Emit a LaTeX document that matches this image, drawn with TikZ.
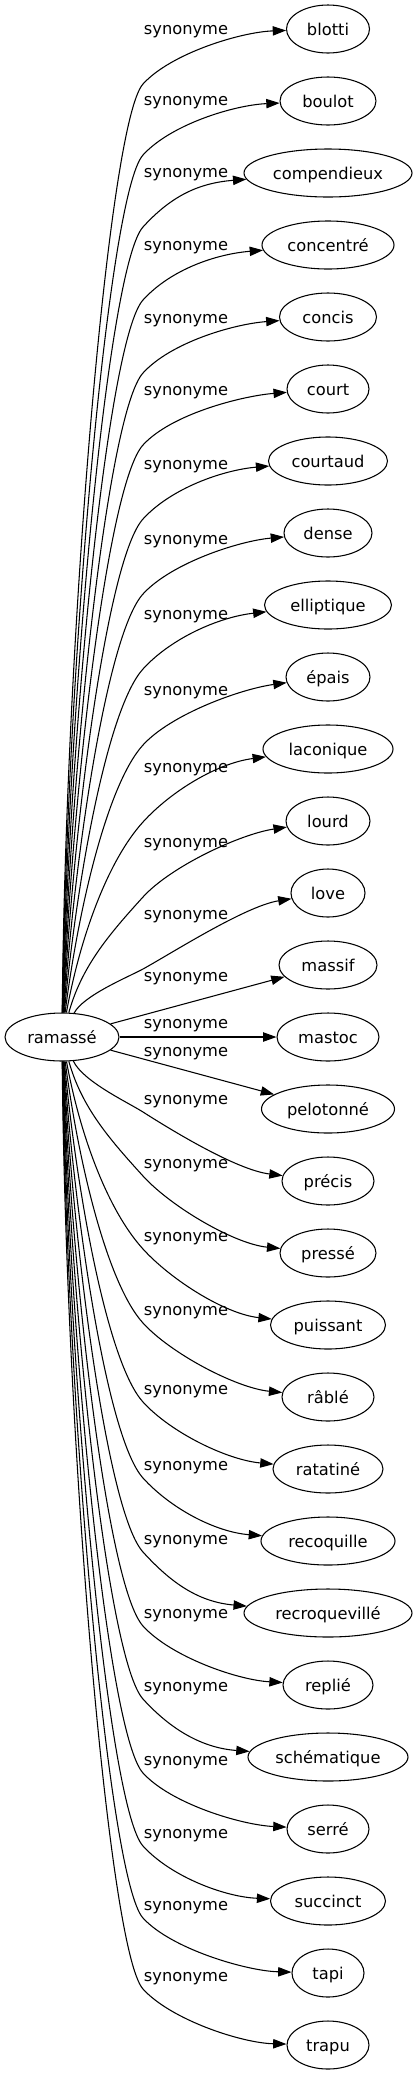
\documentclass[tikz,border=0pt]{standalone}
\usepackage{fontspec}
\setmainfont{DejaVu Sans}
\usetikzlibrary{shapes.geometric,arrows.meta,calc}
\tikzset{
  tnode/.style={ellipse, draw, line width=0.8pt, minimum height=36pt, inner sep=0pt,
    text height=9.3pt, text depth=0pt, font=\fontsize{12.2pt}{14pt}\selectfont},
  lab/.style={inner sep=0pt, font=\fontsize{12.2pt}{14pt}\selectfont},
  edge/.style={line width=0.8pt, -{Triangle[length=10pt,width=7pt]}},
}
\newcommand\upedge[3]{%
  \pgfmathsetmacro\myWy{#2+52}%
  \pgfmathsetmacro\myD{1013-\myWy}%
  \pgfmathsetmacro\myK{min(1.1,\myD/80)}%
  \pgfmathsetmacro\myAx{64+20*(1-\myD/1000)}%
  \pgfmathsetmacro\myAy{1013-0.4*\myD}%
  \pgfmathsetmacro\myM{min(35,0.3*\myD)}%
  \pgfmathsetmacro\myBx{143-\myM}%
  \pgfmathsetmacro\myBy{\myWy+\myK*\myM}%
  \pgfmathsetmacro\myCy{\myWy-28*\myK}%
  \coordinate (w#1) at (143,\myWy);
  \node[lab] (l#1) at (186,#2) {synonyme};
  \draw[edge] (ram) .. controls (\myAx,\myAy) and (\myBx,\myBy) .. (w#1)
     .. controls (171,\myCy) and ($(#1.west)+(-45,#3)$) .. (#1);
}
\newcommand\downedge[3]{%
  \pgfmathsetmacro\myWy{#2+10}%
  \pgfmathsetmacro\myD{\myWy-1061}%
  \pgfmathsetmacro\myK{min(1.1,\myD/80)}%
  \pgfmathsetmacro\myAx{64+20*(1-\myD/1000)}%
  \pgfmathsetmacro\myAy{1061+0.4*\myD}%
  \pgfmathsetmacro\myM{min(35,0.3*\myD)}%
  \pgfmathsetmacro\myBx{143-\myM}%
  \pgfmathsetmacro\myBy{\myWy-\myK*\myM}%
  \pgfmathsetmacro\myCy{\myWy+28*\myK}%
  \coordinate (w#1) at (143,\myWy);
  \node[lab] (l#1) at (186,#2) {synonyme};
  \draw[edge] (ram) .. controls (\myAx,\myAy) and (\myBx,\myBy) .. (w#1)
     .. controls (171,\myCy) and ($(#1.west)+(-45,-#3)$) .. (#1);
}
\begin{document}
\begin{tikzpicture}[x=0.75pt,y=-0.75pt]
\useasboundingbox (0,0) rectangle (418,2075);
\node[tnode, minimum width=85.5pt] (ram) at (62,1037) {ramassé};
\node[tnode, minimum width=62.25pt] (t0) at (328,29) {blotti};
\node[tnode, minimum width=72pt] (t1) at (328,101) {boulot};
\node[tnode, minimum width=126pt] (t2) at (328,173) {compendieux};
\node[tnode, minimum width=99pt] (t3) at (328,245) {concentré};
\node[tnode, minimum width=72.75pt] (t4) at (328,317) {concis};
\node[tnode, minimum width=61.5pt] (t5) at (328,389) {court};
\node[tnode, minimum width=89.25pt] (t6) at (328,461) {courtaud};
\node[tnode, minimum width=66pt] (t7) at (328,533) {dense};
\node[tnode, minimum width=95.25pt] (t8) at (328,605) {elliptique};
\node[tnode, minimum width=63pt] (t9) at (328,677) {épais};
\node[tnode, minimum width=97.5pt] (t10) at (328,749) {laconique};
\node[tnode, minimum width=63pt] (t11) at (328,821) {lourd};
\node[tnode, minimum width=55.5pt] (t12) at (328,893) {love};
\node[tnode, minimum width=73.5pt] (t13) at (328,965) {massif};
\node[tnode, minimum width=76.5pt] (t14) at (328,1037) {mastoc};
\node[tnode, minimum width=99.75pt] (t15) at (328,1109) {pelotonné};
\node[tnode, minimum width=69pt] (t16) at (328,1181) {précis};
\node[tnode, minimum width=72pt] (t17) at (328,1253) {pressé};
\node[tnode, minimum width=86.25pt] (t18) at (328,1325) {puissant};
\node[tnode, minimum width=69pt] (t19) at (328,1397) {râblé};
\node[tnode, minimum width=82.5pt] (t20) at (328,1469) {ratatiné};
\node[tnode, minimum width=100.5pt] (t21) at (328,1541) {recoquille};
\node[tnode, minimum width=126pt] (t22) at (328,1613) {recroquevillé};
\node[tnode, minimum width=67.5pt] (t23) at (328,1685) {replié};
\node[tnode, minimum width=120pt] (t24) at (328,1757) {schématique};
\node[tnode, minimum width=61.5pt] (t25) at (328,1829) {serré};
\node[tnode, minimum width=86.25pt] (t26) at (328,1901) {succinct};
\node[tnode, minimum width=54pt] (t27) at (328,1973) {tapi};
\node[tnode, minimum width=61.5pt] (t28) at (328,2045) {trapu};

\upedge{t0}{32}{3}
\upedge{t1}{103}{4}
\upedge{t2}{175}{10}
\upedge{t3}{248}{9}
\upedge{t4}{321}{7}
\upedge{t5}{393}{7}
\upedge{t6}{467}{9}
\upedge{t7}{542}{8}
\upedge{t8}{617}{12}
\upedge{t9}{693}{12}
\upedge{t10}{770}{14}
\upedge{t11}{845}{13}
\upedge{t12}{917}{13}

\node[lab] (l13) at (186,979) {synonyme};
\draw[edge] (ram) -- (t13);
\node[lab] (l14) at (186,1026) {synonyme};
\draw[edge] (ram) -- (t14);
\node[lab] (l15) at (186,1054) {synonyme};
\draw[edge] (ram) -- (t15);

\downedge{t16}{1102}{11}
\downedge{t17}{1166}{9}
\downedge{t18}{1239}{11}
\downedge{t19}{1313}{9}
\downedge{t20}{1392}{9}
\downedge{t21}{1468}{9}
\downedge{t22}{1542}{11}
\downedge{t23}{1616}{5}
\downedge{t24}{1689}{9}
\downedge{t25}{1763}{4}
\downedge{t26}{1836}{4}
\downedge{t27}{1908}{2}
\downedge{t28}{1979}{2}
\end{tikzpicture}
\end{document}
